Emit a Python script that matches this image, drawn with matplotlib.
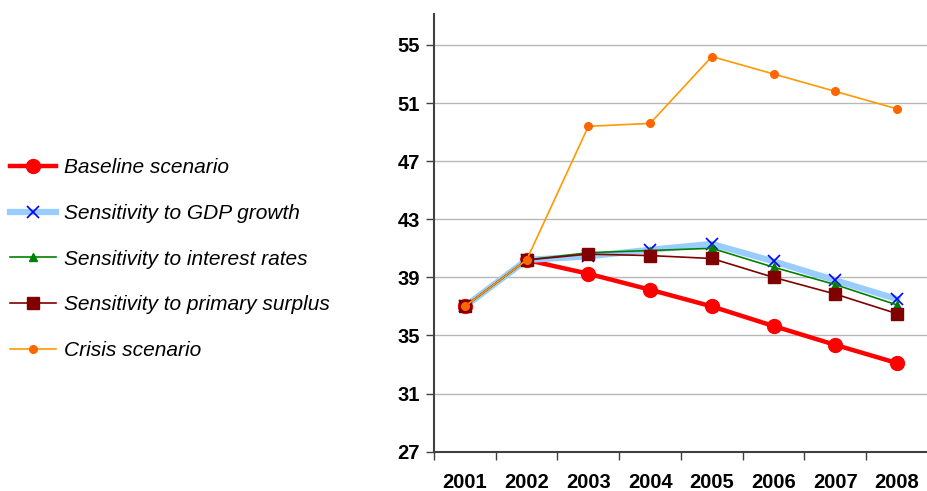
import numpy as np
import matplotlib
matplotlib.use("Agg")
import matplotlib.pyplot as plt

plt.rcParams["font.family"] = ["Liberation Sans", "DejaVu Sans"]

years = ["2001", "2002", "2003", "2004", "2005", "2006", "2007", "2008"]

baseline = [37.0, 40.2, 39.25, 38.15, 37.0, 35.65, 34.35, 33.1]
gdp_growth = [37.0, 40.2, 40.45, 40.9, 41.3, 40.1, 38.8, 37.5]
interest_rates = [37.0, 40.2, 40.7, 40.85, 41.0, 39.7, 38.5, 37.1]
primary_surplus = [37.0, 40.2, 40.6, 40.5, 40.3, 39.0, 37.85, 36.5]
crisis = [37.0, 40.2, 49.4, 49.6, 54.2, 53.0, 51.8, 50.6]

labels = [
    "Baseline scenario",
    "Sensitivity to GDP growth",
    "Sensitivity to interest rates",
    "Sensitivity to primary surplus",
    "Crisis scenario",
]

x = np.arange(len(years))

fig = plt.figure(figsize=(9.28, 4.91), dpi=100)
ax = fig.add_axes([434 / 928, 1 - 451.7 / 491, 1 - 434 / 928, (451.7 - 14) / 491])

ax.plot(x, baseline, color="#FF0000", linewidth=3.2, marker="o", markersize=10,
        markerfacecolor="#FF0000", markeredgecolor="#FF0000", label=labels[0])
ax.plot(x, gdp_growth, color="#99CCFF", linewidth=4.5, marker="x", markersize=8,
        markeredgecolor="#0000FF", markeredgewidth=1.2, label=labels[1])
ax.plot(x, interest_rates, color="#008000", linewidth=1.2, marker="^", markersize=6,
        markerfacecolor="#008000", markeredgecolor="#008000", label=labels[2])
ax.plot(x, primary_surplus, color="#800000", linewidth=1.2, marker="s", markersize=8,
        markerfacecolor="#800000", markeredgecolor="#800000", label=labels[3])
ax.plot(x, crisis, color="#FF9900", linewidth=1.2, marker="o", markersize=5.5,
        markerfacecolor="#FF6600", markeredgecolor="#FF6600", label=labels[4])

ax.set_xlim(-0.5, (928 - 465.7) / 62.43)
ax.set_ylim(27, 57.13)
ax.set_yticks(np.arange(27, 56, 4))
ax.yaxis.grid(True, color="#B8B8B8", linewidth=1.0)
ax.set_axisbelow(True)

ax.set_xticks(x)
ax.set_xticklabels(years)
ax.set_xticks(np.arange(-0.5, len(years), 1.0), minor=True)
ax.tick_params(axis="x", which="major", length=0, pad=15)
ax.tick_params(axis="x", which="minor", length=6, width=1.0, color="#404040")
ax.tick_params(axis="y", length=6, width=1.0, color="#404040", pad=4)
for lab in ax.get_xticklabels() + ax.get_yticklabels():
    lab.set_fontsize(14.5)
    lab.set_fontweight("bold")

for side in ["top", "right"]:
    ax.spines[side].set_visible(False)
for side in ["left", "bottom"]:
    ax.spines[side].set_color("#404040")
    ax.spines[side].set_linewidth(1.5)

handles, lbls = ax.get_legend_handles_labels()
leg = fig.legend(handles, lbls, loc="center left", bbox_to_anchor=(10 / 928, 1 - 259 / 491),
                 frameon=False, prop={"style": "italic", "size": 15},
                 handlelength=2.2, handletextpad=0.4, labelspacing=1.28,
                 borderpad=0.0, borderaxespad=0.0, numpoints=1)
leg.set_in_layout(False)

fig.savefig("out.png", dpi=100)
plt.close(fig)
